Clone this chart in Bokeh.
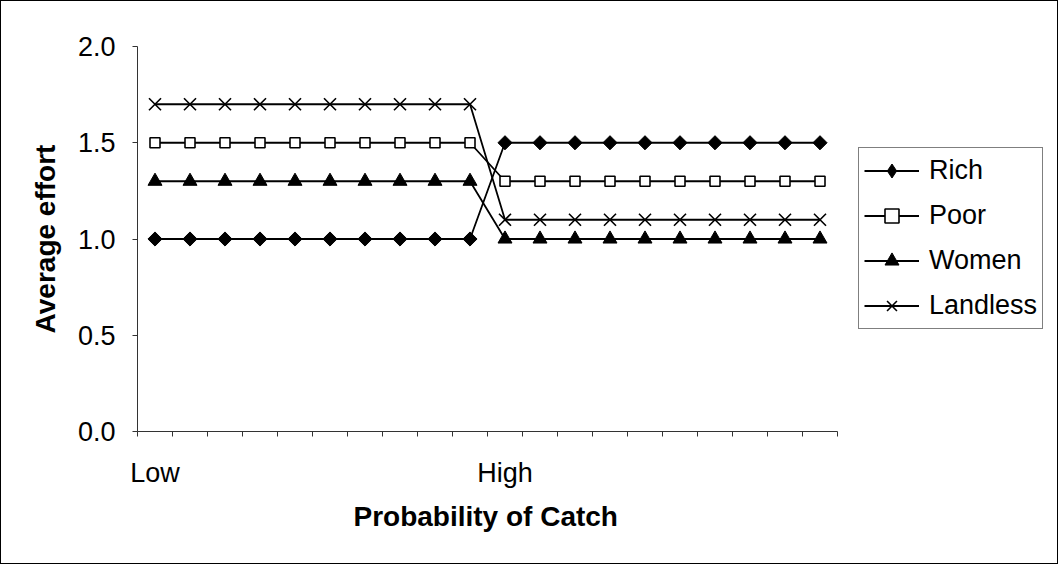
import math

from bokeh.embed import file_html
from bokeh.models import (ColumnDataSource, FixedTicker, Legend, LegendItem,
                          NumeralTickFormatter, Range1d, Title)
from bokeh.plotting import figure
from bokeh.resources import INLINE

# Twenty probability-of-catch steps; only the first and eleventh are labelled
x_labels = ["Low", "", "", "", "", "", "", "", "", "",
            "High", "", "", "", "", "", "", "", "", ""]

# Average effort per group at each step
rich = [1.0, 1.0, 1.0, 1.0, 1.0, 1.0, 1.0, 1.0, 1.0, 1.0,
        1.5, 1.5, 1.5, 1.5, 1.5, 1.5, 1.5, 1.5, 1.5, 1.5]
poor = [1.5, 1.5, 1.5, 1.5, 1.5, 1.5, 1.5, 1.5, 1.5, 1.5,
        1.3, 1.3, 1.3, 1.3, 1.3, 1.3, 1.3, 1.3, 1.3, 1.3]
women = [1.3, 1.3, 1.3, 1.3, 1.3, 1.3, 1.3, 1.3, 1.3, 1.3,
         1.0, 1.0, 1.0, 1.0, 1.0, 1.0, 1.0, 1.0, 1.0, 1.0]
landless = [1.7, 1.7, 1.7, 1.7, 1.7, 1.7, 1.7, 1.7, 1.7, 1.7,
            1.1, 1.1, 1.1, 1.1, 1.1, 1.1, 1.1, 1.1, 1.1, 1.1]

y_ticks = [0.0, 0.5, 1.0, 1.5, 2.0]

FONT = "Liberation Sans"
n = len(x_labels)
xs = [i + 0.5 for i in range(n)]

# Canvas geometry: the data area is 700px wide; the frame continues to the
# right edge so the legend can sit inside it, while the axis stops at n.
W, H = 1058, 564
LEFT, TOP, BOTTOM = 136, 45, 134
AXIS_PX = 700
frame_px = W - LEFT
x_end = n * frame_px / AXIS_PX

p = figure(width=W, height=H, output_backend="svg", toolbar_location=None,
           x_range=Range1d(0, x_end), y_range=Range1d(y_ticks[0], y_ticks[-1]),
           min_border_left=LEFT, min_border_right=0,
           min_border_top=TOP, min_border_bottom=BOTTOM)
p.styles = {"border": "1px solid black"}
p.outline_line_color = None
p.xgrid.visible = False
p.ygrid.visible = False
p.background_fill_color = "white"
p.border_fill_color = "white"

# X axis: tick marks between steps, labels on the labelled steps
labelled = {xs[i]: t for i, t in enumerate(x_labels) if t}
xa = p.xaxis[0]
xa.bounds = (0, n)
xa.ticker = FixedTicker(ticks=list(labelled.keys()), minor_ticks=list(range(n + 1)))
xa.major_label_overrides = labelled
xa.major_tick_out = 0
xa.major_tick_in = 0
xa.minor_tick_out = 5
xa.minor_tick_in = 0

ya = p.yaxis[0]
ya.ticker = FixedTicker(ticks=y_ticks, minor_ticks=[])
ya.formatter = NumeralTickFormatter(format="0.0")
ya.major_tick_out = 5
ya.major_tick_in = 0
ya.axis_label = "Average effort"

for ax in (xa, ya):
    ax.axis_line_color = "#333333"
    ax.major_tick_line_color = "#333333"
    ax.minor_tick_line_color = "#333333"
    ax.major_label_text_font = FONT
    ax.major_label_text_font_size = "27px"
    ax.major_label_text_color = "black"
    ax.axis_label_text_font = FONT
    ax.axis_label_text_font_size = "28px"
    ax.axis_label_text_font_style = "bold"
    ax.axis_label_text_color = "black"
xa.major_label_standoff = 21
ya.major_label_standoff = 17
ya.axis_label_standoff = 14

# X axis title, centred under the 700px axis rather than the wider frame
x_title = Title(text="Probability of Catch", align="left", offset=216,
                text_font=FONT, text_font_size="28px", text_font_style="bold",
                text_color="black", standoff=17)
p.add_layout(x_title, "below")

LW = 1.8
# (name, values, marker style, optional upright legend swatch)
series = [
    ("Rich", rich, dict(marker="square", angle=math.pi / 4, size=10,
                        fill_color="black", line_color="black"),
     dict(marker="diamond", size=12, fill_color="black", line_color="black")),
    ("Poor", poor, dict(marker="square", size=10, fill_color="white",
                        line_color="black", line_width=1.6), None),
    ("Women", women, dict(marker="triangle", size=14, fill_color="black",
                          line_color="black"), None),
    ("Landless", landless, dict(marker="x", size=17, line_color="black",
                                line_width=1.6), None),
]

items = []
for name, vals, mk, key_mk in series:
    src = ColumnDataSource(dict(x=xs, y=vals))
    lr = p.line("x", "y", source=src, line_color="black", line_width=LW)
    key_r = None
    if key_mk is not None:
        # the legend draws markers unrotated, so give it an upright diamond
        # that sits hidden beneath the rotated squares
        key_r = p.scatter("x", "y", source=src, **key_mk)
    sr = p.scatter("x", "y", source=src, **mk)
    items.append(LegendItem(label=name, renderers=[lr, key_r or sr]))

legend = Legend(items=items, location=(721, 102), orientation="vertical")
legend.label_text_font = FONT
legend.label_text_font_size = "27px"
legend.label_text_color = "black"
legend.border_line_color = "black"
legend.border_line_width = 1
legend.background_fill_color = "white"
legend.background_fill_alpha = 1
legend.glyph_width = 55
legend.glyph_height = 35
legend.label_height = 35
legend.label_standoff = 10
legend.spacing = 10
legend.padding = 5
legend.margin = 0
p.add_layout(legend, "center")

open("out.html", "w").write(file_html(p, INLINE))
